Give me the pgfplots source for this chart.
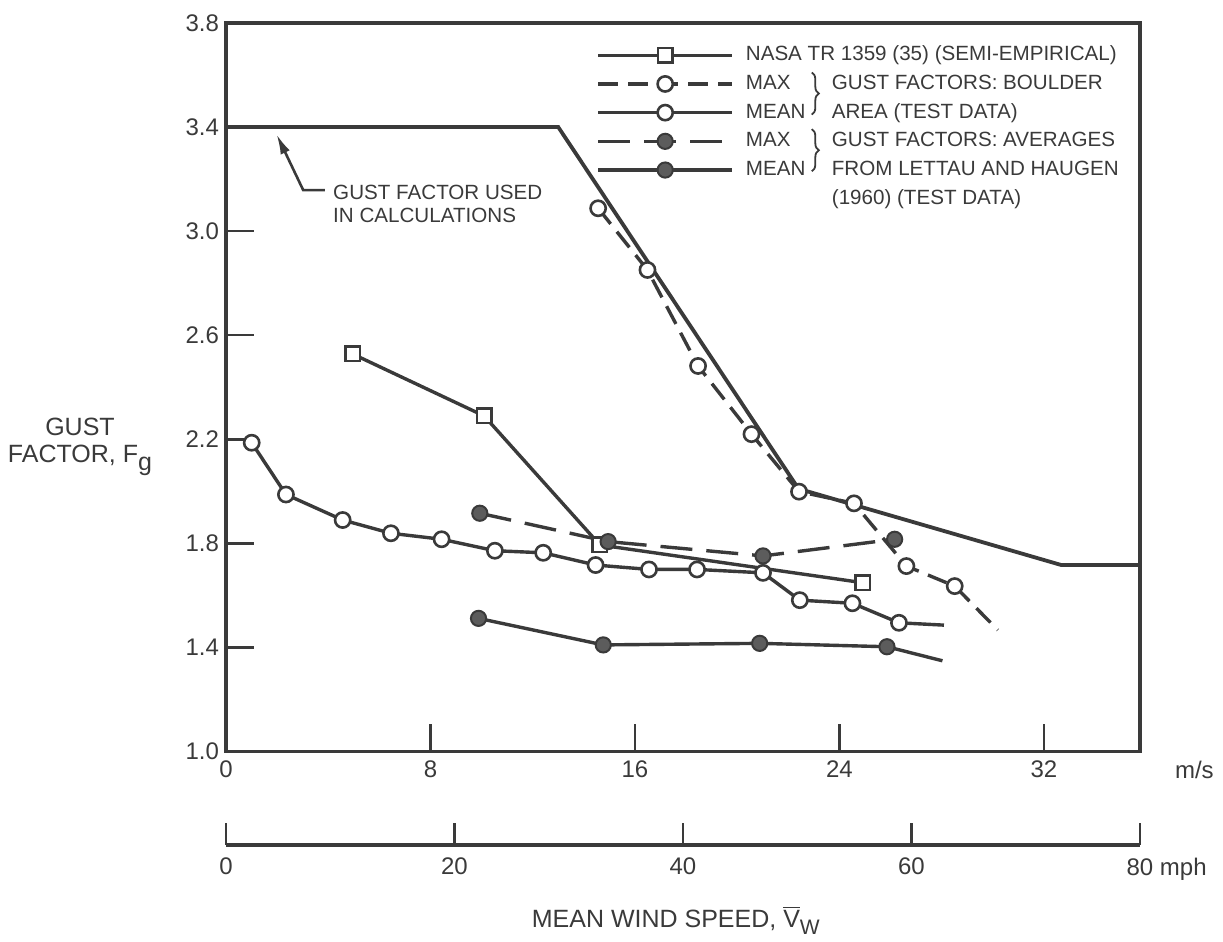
\documentclass[border=0pt]{standalone}
\usepackage{fontspec}
\setmainfont{Liberation Sans}
\usepackage{pgfplots}
\pgfplotsset{compat=1.18}
\usetikzlibrary{arrows.meta,decorations.pathreplacing}
\definecolor{ink}{HTML}{3A3A3A}
\definecolor{dotfill}{HTML}{5C5C5C}
\newcommand{\lt}[2]{\makebox[43pt][l]{#1}#2}
\begin{document}
\begin{tikzpicture}
\path[use as bounding box] (-113pt,-95.2pt) rectangle (498.5pt,375.8pt);
\begin{axis}[
  scale only axis, width=457pt, height=364.3pt,
  xmin=0, xmax=35.76, ymin=1, ymax=3.8,
  xtick={0,8,16,24,32},
  ytick={1.0,1.4,1.8,2.2,2.6,3.0,3.4,3.8},
  yticklabel style={/pgf/number format/.cd, fixed, fixed zerofill, precision=1},
  /pgf/number format/assume math mode=true,
  tick align=inside, xtick pos=bottom, ytick pos=left,
  major tick length=14pt,
  axis line style={line width=1.6pt, draw=ink},
  tick style={line width=1.2pt, draw=ink},
  tick label style={font=\fontsize{12}{14}\selectfont, text=ink},
  xticklabel style={yshift=-1pt},
  clip=false,
  legend cell align=left,
  legend style={draw=none, fill=none, inner sep=0pt, at={(axis cs:14.48,3.718)}, anchor=north west,
    font=\fontsize{10.3}{12}\selectfont, text=ink, row sep=3.85pt, column sep=6pt,
    nodes={inner xsep=0pt, inner ysep=0pt, text height=8pt, text depth=2.5pt}},
  legend image code/.code={\draw[#1, mark indices={2}] plot coordinates {(0pt,0pt) (33.5pt,0pt) (67pt,0pt)};},
]
% envelope used in calculations
\addplot[ink, line width=1.9pt, forget plot] coordinates {(0,3.4) (13.0,3.4) (22.4,2.01) (32.68,1.717) (35.76,1.717)};
% NASA TR 1359
\addplot[ink, line width=1.7pt, mark=square*, mark size=3.6pt, mark options={solid, fill=white, line width=1.3pt}]
  coordinates {(4.955,2.528) (10.10,2.290) (14.63,1.794) (24.92,1.649)};
\addlegendentry{NASA TR 1359 (35) (SEMI-EMPIRICAL)}
% Max Boulder
\addplot[ink, line width=1.7pt, dash pattern=on 10pt off 5pt, mark=*, mark size=3.8pt, mark options={solid, fill=white, line width=1.3pt}, mark indices={1,2,3,4,5,6,7,8}]
  coordinates {(14.56,3.088) (16.49,2.851) (18.47,2.482) (20.56,2.220) (22.42,1.999) (24.57,1.954) (26.62,1.713) (28.51,1.636) (30.20,1.467)};
\addlegendentry{\lt{MAX}{GUST FACTORS: BOULDER}}
% Mean Boulder
\addplot[ink, line width=1.7pt, mark=*, mark size=3.8pt, mark options={solid, fill=white, line width=1.3pt}, mark indices={1,2,3,4,5,6,7,8,9,10,11,12,13,14}]
  coordinates {(1.005,2.187) (2.346,1.988) (4.564,1.890) (6.453,1.839) (8.436,1.816) (10.52,1.772) (12.41,1.764) (14.46,1.717) (16.55,1.700) (18.43,1.700) (21.01,1.687) (22.45,1.582) (24.51,1.570) (26.33,1.495) (28.09,1.486)};
\addlegendentry{\lt{MEAN}{AREA (TEST DATA)}}
% Max Lettau and Haugen
\addplot[ink, line width=1.7pt, dash pattern=on 16pt off 7pt, mark=*, mark size=3.8pt, mark options={solid, fill=dotfill, line width=1pt}]
  coordinates {(9.93,1.916) (14.95,1.807) (21.01,1.752) (26.16,1.816)};
\addlegendentry{\lt{MAX}{GUST FACTORS: AVERAGES}}
% Mean Lettau and Haugen
\addplot[ink, line width=1.7pt, mark=*, mark size=3.8pt, mark options={solid, fill=dotfill, line width=1pt}, mark indices={1,2,3,4}]
  coordinates {(9.88,1.512) (14.76,1.410) (20.88,1.416) (25.86,1.403) (28.03,1.349)};
\addlegendentry{\lt{MEAN}{FROM LETTAU AND HAUGEN}}
\addlegendimage{empty legend}
\addlegendentry{\hspace{43pt}(1960) (TEST DATA)}
% braces joining MAX / MEAN entries
\draw[ink, line width=0.9pt, decorate, decoration={brace, amplitude=3.5pt}] (axis cs:22.92,3.610) -- (axis cs:22.92,3.448);
\draw[ink, line width=0.9pt, decorate, decoration={brace, amplitude=3.5pt}] (axis cs:22.92,3.392) -- (axis cs:22.92,3.230);
% annotation
\draw[ink, line width=1.3pt, -{Latex[length=10pt,width=5pt]}] (axis cs:3.87,3.158) -- (axis cs:3.02,3.158) -- (axis cs:1.98,3.372);
\node[anchor=north west, inner sep=0pt, align=left, font=\fontsize{10.3}{11.5}\selectfont, text=ink] at (axis cs:4.18,3.178) {GUST FACTOR USED\\IN CALCULATIONS};
% labels
\node[align=center, font=\fontsize{12.5}{13.5}\selectfont, text=ink, xshift=-73pt] at (axis cs:0,2.17) {GUST\\FACTOR, F\raisebox{-4pt}{g}};
\node[font=\fontsize{12.5}{14}\selectfont, text=ink, yshift=-84.2pt] at (axis cs:17.6,1) {MEAN WIND SPEED, $\overline{\mbox{V}}$\raisebox{-3.5pt}{\fontsize{10.5}{12}\selectfont W}};
\node[anchor=west, font=\fontsize{12}{14}\selectfont, text=ink, xshift=14pt, yshift=-9.2pt] at (axis cs:35.76,1) {m/s};
\end{axis}
\begin{axis}[
  scale only axis, width=457pt, height=10pt, at={(0,-46.7pt)}, anchor=south west,
  xmin=0, xmax=80, ymin=0, ymax=1,
  axis x line*=bottom, axis y line=none,
  xtick={0,20,40,60,80}, xticklabels={0,20,40,60,{80\rlap{\ mph}}},
  /pgf/number format/assume math mode=true,
  tick align=inside, major tick length=11pt,
  axis line style={line width=1.6pt, draw=ink},
  tick style={line width=1.2pt, draw=ink},
  tick label style={font=\fontsize{12}{14}\selectfont, text=ink},
  xticklabel style={yshift=-3pt},
]
\end{axis}
\end{tikzpicture}
\end{document}
